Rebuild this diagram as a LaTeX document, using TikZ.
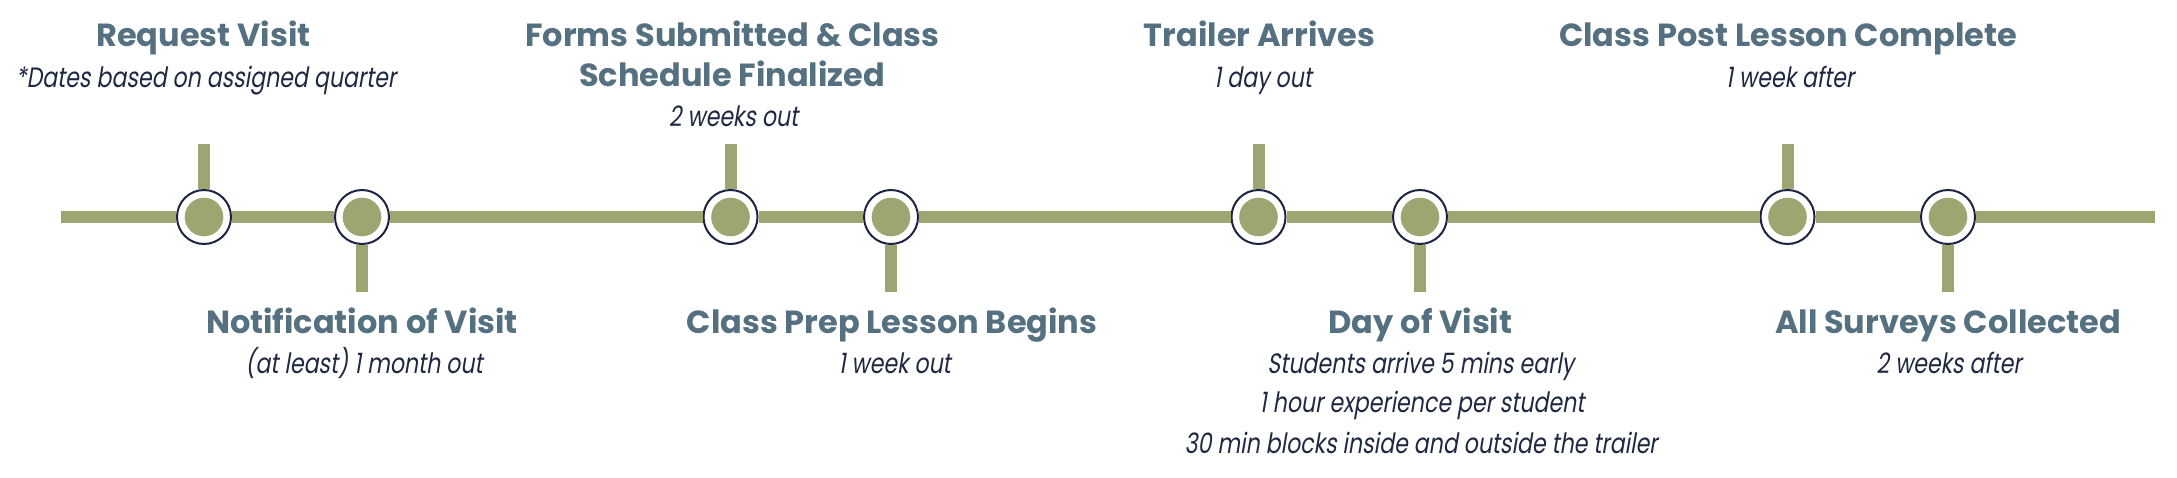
\documentclass[tikz,border=0pt]{standalone}
\usepackage{fontspec}
\newfontfamily\titlefont[FakeStretch=1.0]{Poppins}
\newfontfamily\subfont[FakeStretch=0.79,FakeSlant=0.17]{Poppins}
\definecolor{lgreen}{HTML}{9DA571}
\definecolor{ring}{HTML}{1B2542}
\definecolor{slate}{HTML}{557080}
\definecolor{navy}{HTML}{1E2841}
\begin{document}
\begin{tikzpicture}[x=1pt,y=-1pt,
  tl/.style={line width=12pt, draw=lgreen},
  event/.style={circle, draw=ring, line width=2pt, fill=white, minimum size=54pt, inner sep=0pt,
    path picture={\fill[lgreen] (path picture bounding box.center) circle (19.3pt);}},
  ttl/.style={anchor=base, text=slate, inner sep=0pt, font=\titlefont\bfseries\fontsize{32}{38}\selectfont},
  sub/.style={anchor=base, text=navy, inner sep=0pt, font=\subfont\fontsize{28}{40}\selectfont}]
\useasboundingbox (0,0) rectangle (2177,477);
% main line ends and tick ends
\coordinate (L) at (61,217);
\coordinate (R) at (2155,217);
\foreach \n/\x/\y in {1/204/144, 2/362/292, 3/730.5/144, 4/891/292, 5/1258.5/144, 6/1420/292, 7/1787.5/144, 8/1948/292}
  \coordinate (t\n) at (\x,\y);
% events
\node[event] (e1) at (204,217) {};
\node[event] (e2) at (362,217) {};
\node[event] (e3) at (730.5,217) {};
\node[event] (e4) at (891,217) {};
\node[event] (e5) at (1258.5,217) {};
\node[event] (e6) at (1420,217) {};
\node[event] (e7) at (1787.5,217) {};
\node[event] (e8) at (1948,217) {};
% connectors
\draw[tl] (L) -- (e1);
\draw[tl] (e1) -- (e2);
\draw[tl] (e2) -- (e3);
\draw[tl] (e3) -- (e4);
\draw[tl] (e4) -- (e5);
\draw[tl] (e5) -- (e6);
\draw[tl] (e6) -- (e7);
\draw[tl] (e7) -- (e8);
\draw[tl] (e8) -- (R);
\foreach \n in {1,...,8} \draw[tl] (e\n) -- (t\n);
% top labels
\node[ttl] (h1) at (203.5,46.7) {Request Visit};
\node[sub] (s1) at (206,87.3) {*Dates based on assigned quarter};
\node[ttl] (h3a) at (732.5,46.7) {Forms Submitted \& Class};
\node[ttl] (h3b) at (732,86) {Schedule Finalized};
\node[sub] (s3) at (733.5,126.7) {2 weeks out};
\node[ttl] (h5) at (1259.5,46.7) {Trailer Arrives};
\node[sub] (s5) at (1263,87) {1 day out};
\node[ttl] (h7) at (1788,46.7) {Class Post Lesson Complete};
\node[sub] (s7) at (1790,87) {1 week after};
% bottom labels
\node[ttl] (h2) at (362,333.3) {Notification of Visit};
\node[sub] (s2) at (364,373) {(at least) 1 month out};
\node[ttl] (h4) at (892,333) {Class Prep Lesson Begins};
\node[sub] (s4) at (894.6,373) {1 week out};
\node[ttl] (h6) at (1420.5,333) {Day of Visit};
\node[sub] (s6a) at (1420.7,373) {Students arrive 5 mins early};
\node[sub] (s6b) at (1422,412.7) {1 hour experience per student};
\node[sub] (s6c) at (1421,453.3) {30 min blocks inside and outside the trailer};
\node[ttl] (h8) at (1948,333) {All Surveys Collected};
\node[sub] (s8) at (1949,373) {2 weeks after};
\end{tikzpicture}
\end{document}
